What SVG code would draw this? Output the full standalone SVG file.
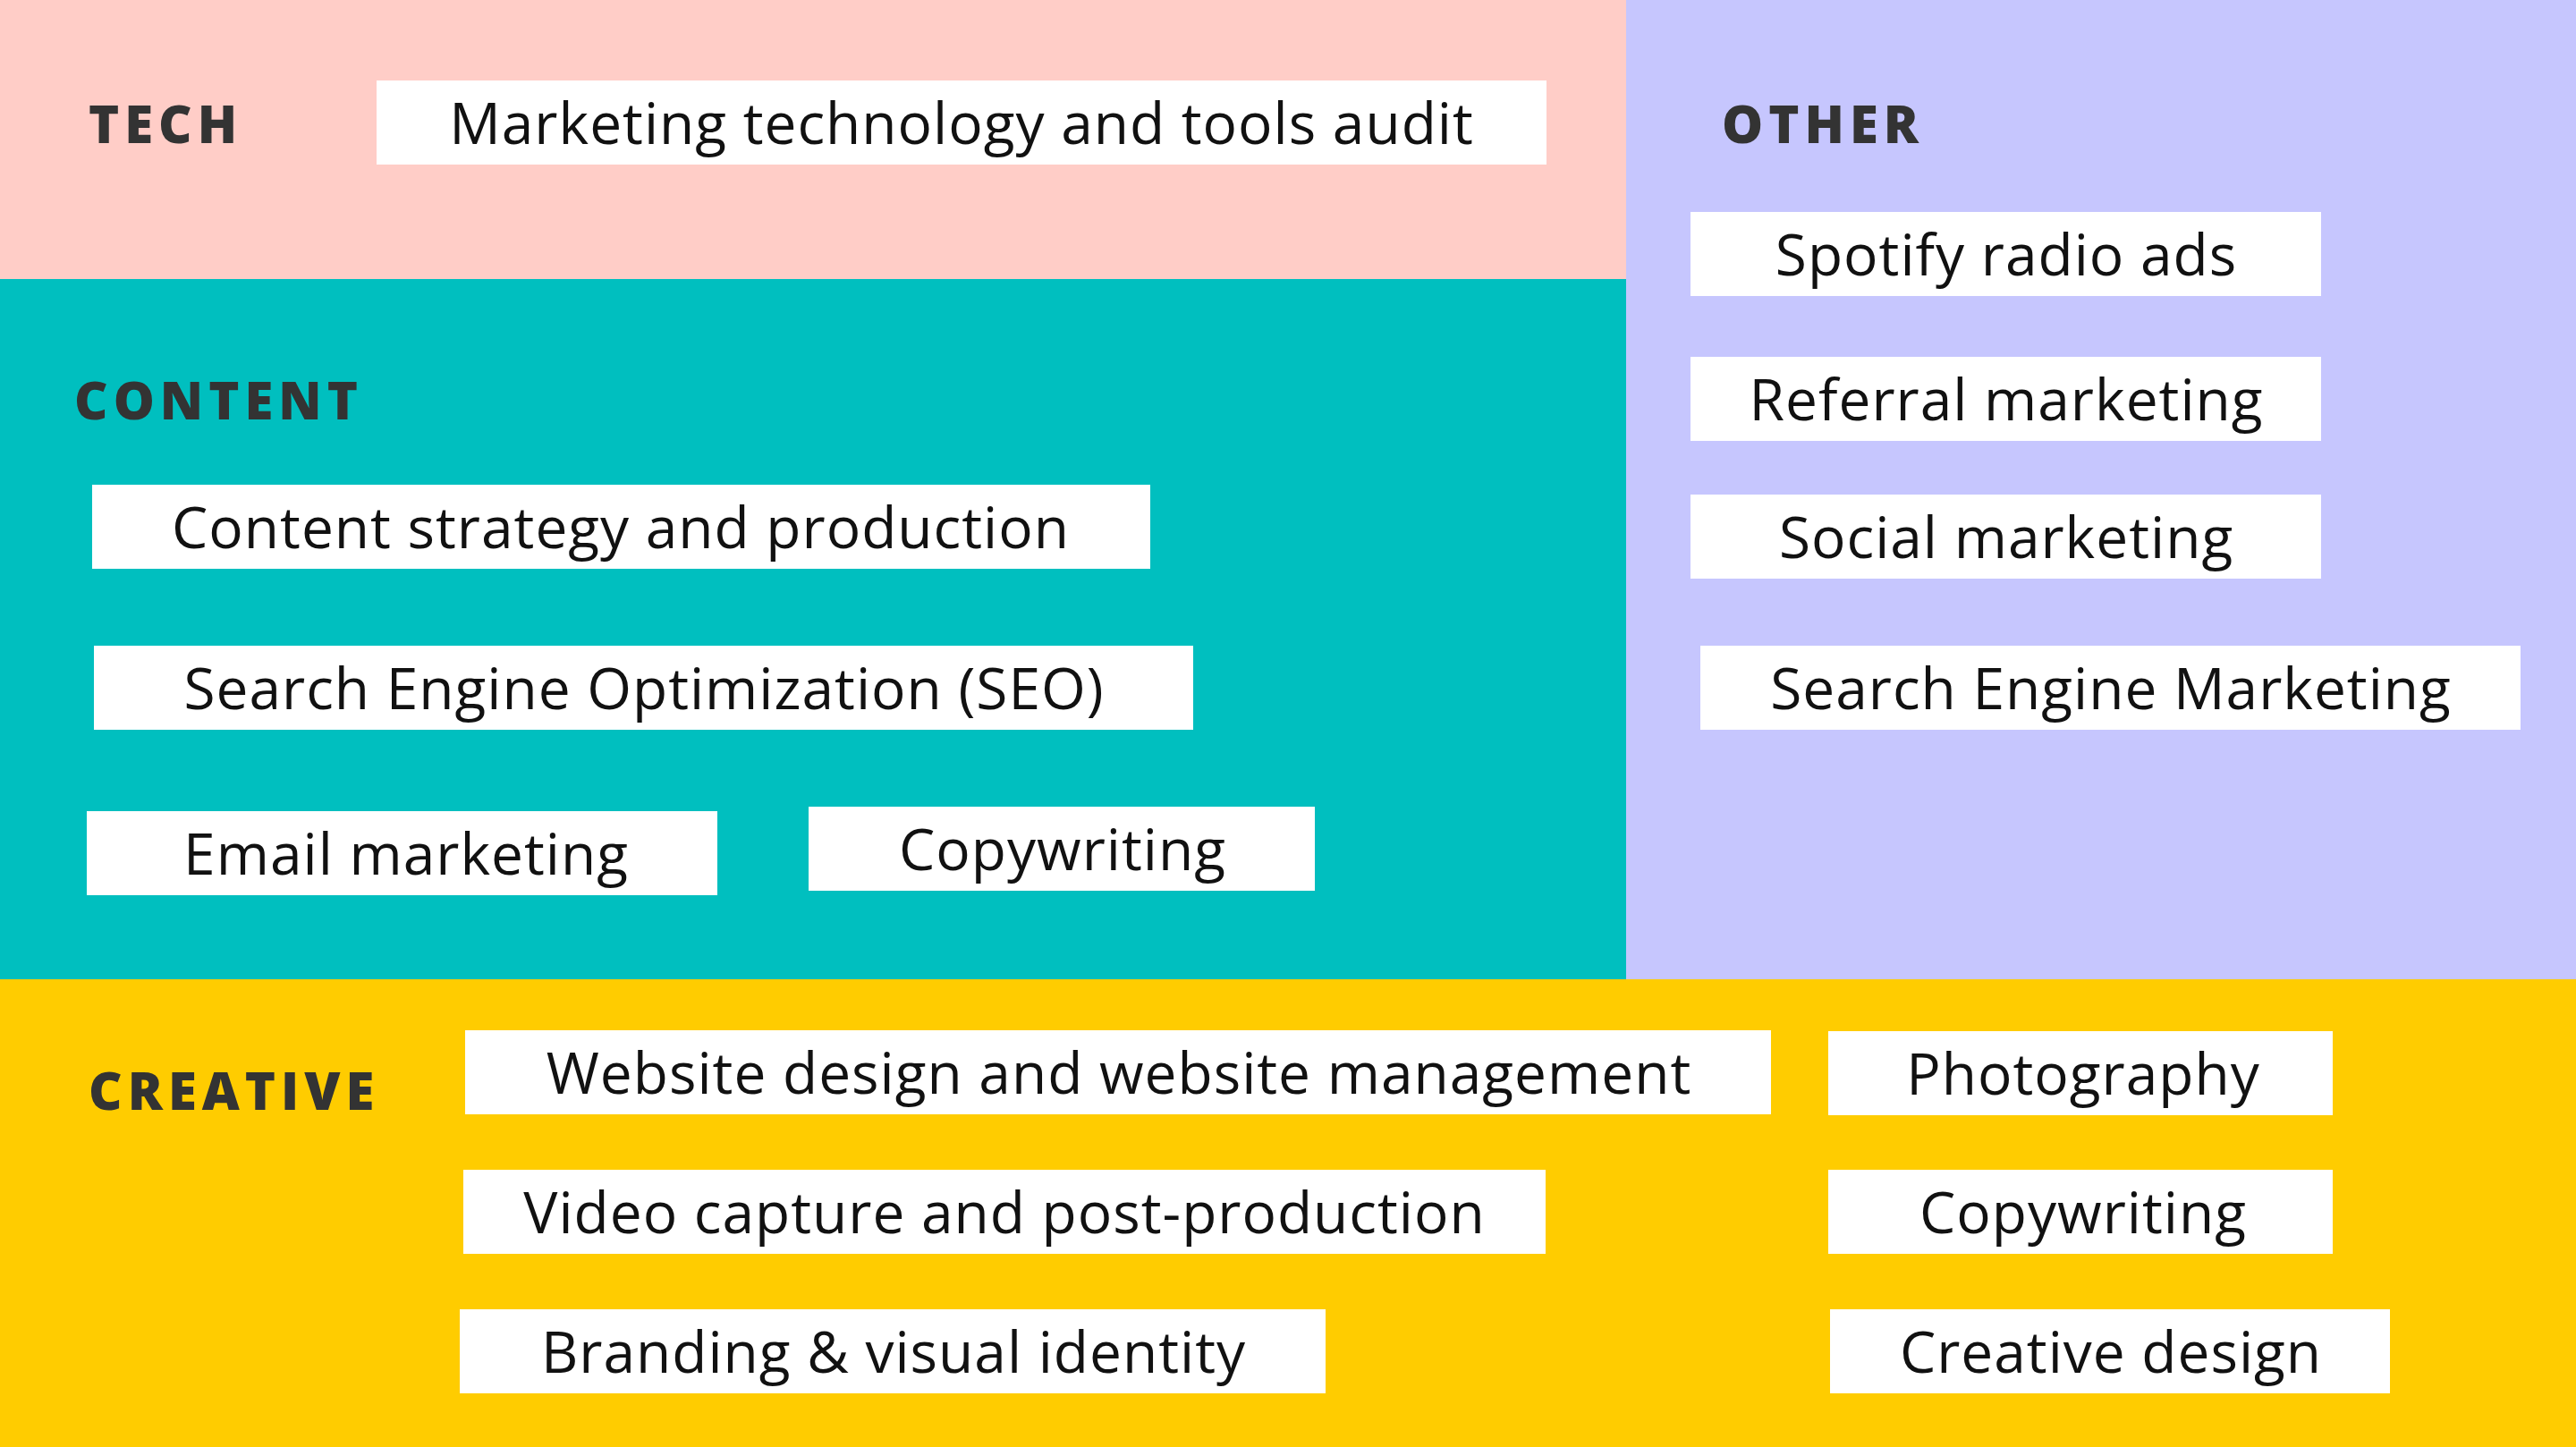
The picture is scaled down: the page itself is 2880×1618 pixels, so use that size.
<svg xmlns="http://www.w3.org/2000/svg" width="2880" height="1618" viewBox="0 0 2880 1618">
<style>
.hd{font-family:"Open Sans","Liberation Sans",sans-serif;font-weight:800;font-size:58px;letter-spacing:6px;fill:#333}
.bx{fill:#fff}
.t{font-family:"Open Sans","Liberation Sans",sans-serif;font-size:64px;fill:#111;text-anchor:middle;letter-spacing:1px}
</style>
<rect x="0" y="0" width="1818" height="312" fill="#FFCDC7"/>
<rect x="1818" y="0" width="1062" height="1095" fill="#C6C6FE"/>
<rect x="0" y="312" width="1818" height="783" fill="#00BFBF"/>
<rect x="0" y="1095" width="2880" height="523" fill="#FFCC00"/>
<text class="hd" x="99" y="160">TECH</text>
<text class="hd" x="1925" y="160">OTHER</text>
<text class="hd" x="83" y="469">CONTENT</text>
<text class="hd" x="99" y="1241">CREATIVE</text>
<g id="n1"><rect class="bx" x="421" y="90" width="1308" height="94"/><text class="t" x="1075" y="161">Marketing technology and tools audit</text></g>
<g id="n2"><rect class="bx" x="1890" y="237" width="705" height="94"/><text class="t" x="2243" y="308">Spotify radio ads</text></g>
<g id="n3"><rect class="bx" x="1890" y="399" width="705" height="94"/><text class="t" x="2243" y="470">Referral marketing</text></g>
<g id="n4"><rect class="bx" x="1890" y="553" width="705" height="94"/><text class="t" x="2243" y="624">Social marketing</text></g>
<g id="n5"><rect class="bx" x="1901" y="722" width="917" height="94"/><text class="t" x="2360" y="793">Search Engine Marketing</text></g>
<g id="n6"><rect class="bx" x="103" y="542" width="1183" height="94"/><text class="t" x="694" y="613">Content strategy and production</text></g>
<g id="n7"><rect class="bx" x="105" y="722" width="1229" height="94"/><text class="t" x="720" y="793">Search Engine Optimization (SEO)</text></g>
<g id="n8"><rect class="bx" x="97" y="907" width="705" height="94"/><text class="t" x="454" y="978">Email marketing</text></g>
<g id="n9"><rect class="bx" x="904" y="902" width="566" height="94"/><text class="t" x="1188" y="973">Copywriting</text></g>
<g id="n10"><rect class="bx" x="520" y="1152" width="1460" height="94"/><text class="t" x="1251" y="1223">Website design and website management</text></g>
<g id="n11"><rect class="bx" x="2044" y="1153" width="564" height="94"/><text class="t" x="2329" y="1224">Photography</text></g>
<g id="n12"><rect class="bx" x="518" y="1308" width="1210" height="94"/><text class="t" x="1123" y="1379">Video capture and post-production</text></g>
<g id="n13"><rect class="bx" x="2044" y="1308" width="564" height="94"/><text class="t" x="2329" y="1379">Copywriting</text></g>
<g id="n14"><rect class="bx" x="514" y="1464" width="968" height="94"/><text class="t" x="999" y="1535">Branding &amp; visual identity</text></g>
<g id="n15"><rect class="bx" x="2046" y="1464" width="626" height="94"/><text class="t" x="2360" y="1535">Creative design</text></g>
<g id="connectors"/>
</svg>
